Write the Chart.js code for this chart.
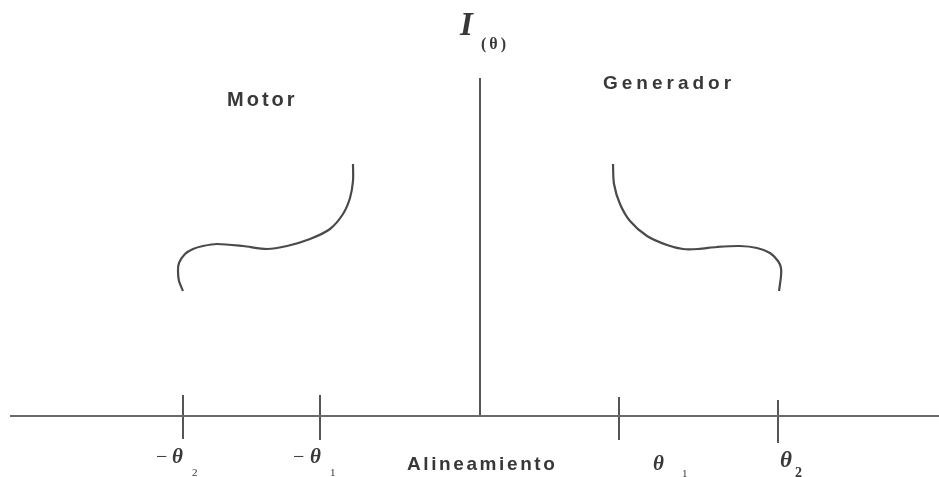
<!DOCTYPE html>
<html><head><meta charset="utf-8">
<script src="https://cdn.jsdelivr.net/npm/chart.js@4.4.0/dist/chart.umd.min.js"></script>
<style>html,body{margin:0;padding:0;background:#fff;overflow:hidden}#wrap{width:939px;height:477px;position:relative}</style>
</head><body><div id="wrap"><canvas id="c" width="939" height="477"></canvas></div>
<script>
// Data (x: angle offset from alignment, y: current I(θ))
const motorX = [-297,-301,-302,-301,-295,-287,-277,-263,-237,-213,-193,-170,-150,-137,-130,-127,-127];
const motorY = [125,135,145,153,162,167,170,172,170,167,170,177,187,202,218,235,252];
const genX = [133,134,140,150,167,187,203,218,237,260,277,290,298,301,301,300,299];
const genY = [252,232,212,195,180,171,167,167,169,170,168,163,155,148,140,132,125];
const tickValues = [-297,-160,139,298];
const tickSigns = ['−','−','',''];
const tickSymbols = ['θ','θ','θ','θ'];
const tickSubs = ['2','1','1','2'];
const regionLabels = ['Motor','Generador'];
const xAxisTitle = 'Alineamiento';
const yAxisTitle = 'I';
const yAxisSub = '(θ)';
const xAxisRange = [-470,459];
const yAxisTop = 338;

const toPts = (xs, ys) => xs.map((x,i)=>({x, y: ys[i]}));
const tickTop = [21,21,19,16], tickBot = [-23,-24,-24,-27];
const tickPts = [];
tickValues.forEach((v,i)=>{ tickPts.push({x:v,y:tickTop[i]},{x:v,y:tickBot[i]},{x:v,y:null}); });

const textPlugin = {
  id:'texts',
  afterDatasetsDraw(chart){
    const ctx = chart.ctx, xs = chart.scales.x;
    ctx.save();
    ctx.fillStyle = '#383838';
    ctx.textBaseline = 'alphabetic';
    ctx.textAlign = 'left';
    const x0 = xs.getPixelForValue(0);
    ctx.font = 'italic bold 33px "Liberation Serif"';
    ctx.fillText(yAxisTitle, x0 - 20, 35);
    ctx.font = 'bold 16px "Liberation Serif"';
    ctx.letterSpacing = '3px';
    ctx.fillText(yAxisSub, x0 + 1, 49);
    ctx.font = 'bold 20px "Liberation Sans"';
    ctx.letterSpacing = '3px';
    ctx.fillText(regionLabels[0], xs.getPixelForValue(-253), 106);
    ctx.font = 'bold 19px "Liberation Sans"';
    ctx.letterSpacing = '4px';
    ctx.fillText(regionLabels[1], xs.getPixelForValue(123), 89);
    ctx.font = 'bold 19px "Liberation Sans"';
    ctx.letterSpacing = '2.6px';
    ctx.fillText(xAxisTitle, xs.getPixelForValue(-73), 470);
    ctx.letterSpacing = '0px';
    // sign offset, theta offset, theta baseline, sub offset, sub baseline
    const off = [[-27,-11,463,9,476],[-27,-10,463,10,476],[0,34,470,63,477],[0,2,467,17,477]];
    tickValues.forEach((v,i)=>{
      const px = xs.getPixelForValue(v);
      const big = i===3;
      if (tickSigns[i]) { ctx.font = '20px "Liberation Serif"'; ctx.fillText(tickSigns[i], px + off[i][0], off[i][2]); }
      ctx.font = 'italic bold ' + (big?23:21) + 'px "Liberation Serif"';
      ctx.fillText(tickSymbols[i], px + off[i][1], off[i][2]);
      ctx.font = (big?'bold 14px':'11px') + ' "Liberation Serif"';
      ctx.fillText(tickSubs[i], px + off[i][3], off[i][4]);
    });
    ctx.restore();
  }
};

new Chart(document.getElementById('c'), {
  type:'line',
  data:{ datasets:[
    {data: toPts(motorX, motorY), borderColor:'#4a4a4a', borderWidth:2.2, tension:0.3, pointRadius:0},
    {data: toPts(genX, genY), borderColor:'#4a4a4a', borderWidth:2.2, tension:0.3, pointRadius:0},
    {data: [{x:xAxisRange[0],y:0},{x:xAxisRange[1],y:0}], borderColor:'#6a6a6a', borderWidth:2, tension:0, pointRadius:0},
    {data: [{x:0,y:0},{x:0,y:yAxisTop}], borderColor:'#555', borderWidth:2, tension:0, pointRadius:0},
    {data: tickPts, borderColor:'#555', borderWidth:2, tension:0, pointRadius:0, spanGaps:false}
  ]},
  options:{
    responsive:false, animation:false,
    layout:{padding:0},
    plugins:{legend:{display:false}, tooltip:{enabled:false}},
    scales:{
      x:{type:'linear', display:false, min:-480, max:459},
      y:{type:'linear', display:false, min:-61, max:416}
    }
  },
  plugins:[textPlugin]
});
</script></body></html>
